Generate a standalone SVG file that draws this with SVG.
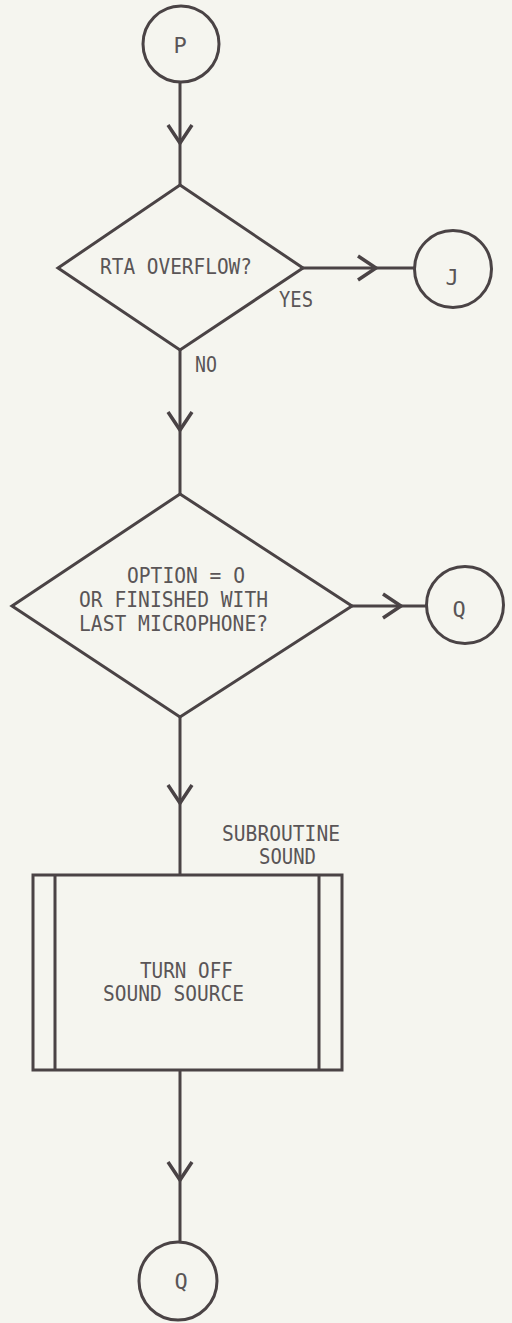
<svg xmlns="http://www.w3.org/2000/svg" width="512" height="1323" viewBox="0 0 512 1323">
<style>
.s{fill:none;stroke:#4a4345;stroke-width:3;stroke-linejoin:miter}
.t{font-family:"DejaVu Sans Mono","Liberation Mono",monospace;font-size:22px;fill:#5a5557}
.c{text-anchor:middle}
</style>
<defs>
<marker id="ah" markerUnits="userSpaceOnUse" markerWidth="30" markerHeight="30" viewBox="-20 -15 30 30" refX="0" refY="0" orient="auto">
<path d="M-18,-12 L0,0 L-18,12" fill="none" stroke="#4a4345" stroke-width="3.5"/>
</marker>
</defs>
<rect width="512" height="1323" fill="#f5f5ef"/>
<g id="connectors">
<path class="s" d="M180,82 V143" marker-end="url(#ah)"/>
<path class="s" d="M180,143 V185"/>
<path class="s" d="M303,268 H376" marker-end="url(#ah)"/>
<path class="s" d="M376,268 H414"/>
<path class="s" d="M180,350 V430" marker-end="url(#ah)"/>
<path class="s" d="M180,430 V494"/>
<path class="s" d="M352,606 H401" marker-end="url(#ah)"/>
<path class="s" d="M401,606 H427"/>
<path class="s" d="M180,717 V803" marker-end="url(#ah)"/>
<path class="s" d="M180,803 V875"/>
<path class="s" d="M180,1070 V1180" marker-end="url(#ah)"/>
<path class="s" d="M180,1180 V1243"/>
</g>
<g id="p"><circle class="s" cx="181" cy="44" r="38"/><text class="t c" x="180" y="53">P</text></g>
<g id="d1"><path class="s" d="M180,185 L303,268 L180,350 L58,268 Z"/><text class="t" x="100" y="274" textLength="152" lengthAdjust="spacingAndGlyphs">RTA OVERFLOW?</text></g>
<g id="yes"><text class="t" x="279" y="307" textLength="34" lengthAdjust="spacingAndGlyphs">YES</text></g>
<g id="no"><text class="t" x="195" y="372" textLength="22" lengthAdjust="spacingAndGlyphs">NO</text></g>
<g id="j"><circle class="s" cx="453" cy="269" r="38.5"/><text class="t c" x="452" y="285">J</text></g>
<g id="d2"><path class="s" d="M180,494 L352,606 L180,717 L12,606 Z"/>
<text class="t" x="127" y="583" textLength="118" lengthAdjust="spacingAndGlyphs">OPTION = O</text>
<text class="t" x="79" y="607" textLength="189" lengthAdjust="spacingAndGlyphs">OR FINISHED WITH</text>
<text class="t" x="79" y="631" textLength="189" lengthAdjust="spacingAndGlyphs">LAST MICROPHONE?</text></g>
<g id="q1"><circle class="s" cx="465" cy="605" r="38.5"/><text class="t c" x="459" y="617">Q</text></g>
<g id="sub"><text class="t" x="222" y="841" textLength="118" lengthAdjust="spacingAndGlyphs">SUBROUTINE</text><text class="t" x="259" y="864" textLength="57" lengthAdjust="spacingAndGlyphs">SOUND</text>
<rect class="s" x="33" y="875" width="309" height="195"/>
<path class="s" d="M55,875 V1070 M319,875 V1070"/>
<text class="t" x="140" y="978" textLength="93" lengthAdjust="spacingAndGlyphs">TURN OFF</text>
<text class="t" x="103" y="1001" textLength="141" lengthAdjust="spacingAndGlyphs">SOUND SOURCE</text></g>
<g id="q2"><circle class="s" cx="178" cy="1281" r="39"/><text class="t c" x="181" y="1289">Q</text></g>
</svg>
